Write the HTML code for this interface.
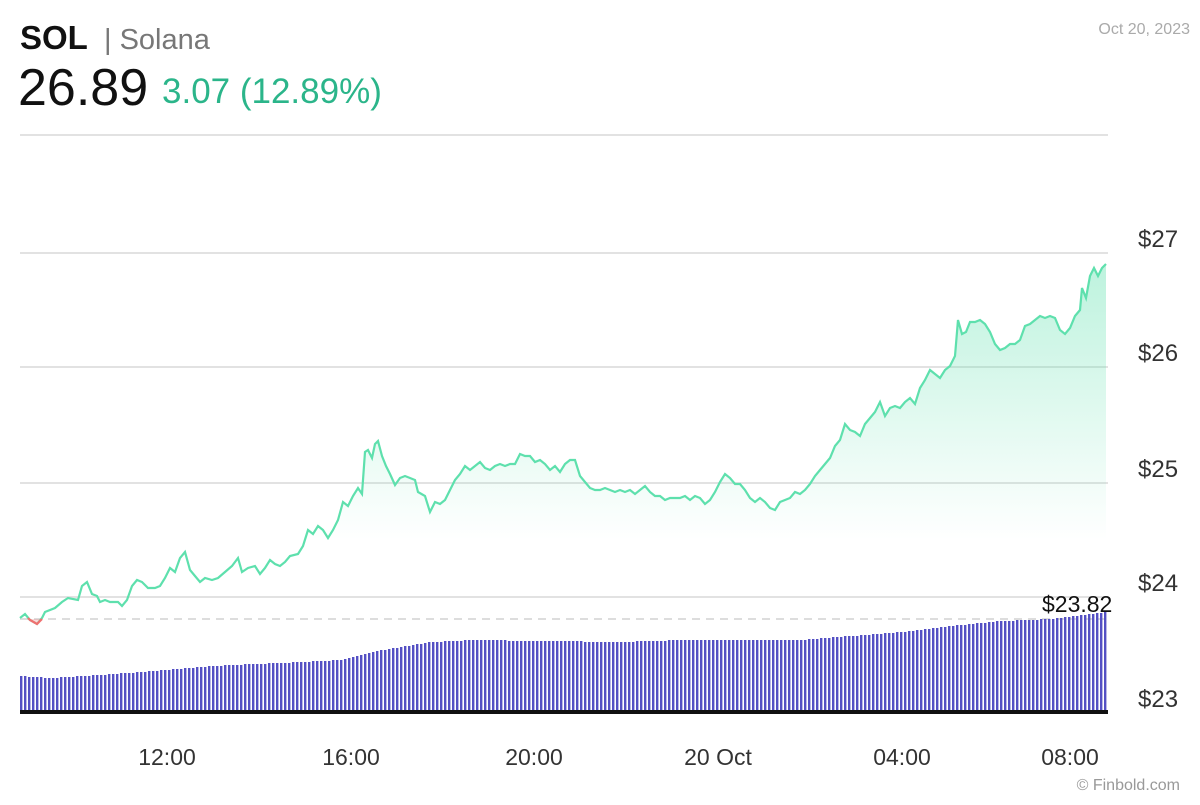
<!DOCTYPE html>
<html><head><style>
body{margin:0;background:#fff;width:1200px;height:800px;overflow:hidden;font-family:"Liberation Sans",sans-serif}
</style></head><body>
<svg id="s" width="1200" height="800" xmlns="http://www.w3.org/2000/svg">
<defs><linearGradient id="g" gradientUnits="userSpaceOnUse" x1="0" y1="270" x2="0" y2="540">
<stop offset="0" stop-color="#5ee0ad" stop-opacity="0.4"/><stop offset="1" stop-color="#5ee0ad" stop-opacity="0"/></linearGradient></defs>
<text x="20" y="49" font-size="33" font-weight="bold" fill="#111">SOL</text>
<text x="104" y="49" font-size="29" fill="#777">| Solana</text>
<text x="18" y="105" font-size="52" fill="#111">26.89</text>
<text x="162" y="103" font-size="35" fill="#2bb58a">3.07 (12.89%)</text>
<text x="1190" y="34" font-size="16" fill="#aaa" text-anchor="end">Oct 20, 2023</text>
<g stroke="#e2e2e2" stroke-width="2">
<line x1="20" y1="135" x2="1108" y2="135"/><line x1="20" y1="253" x2="1108" y2="253"/>
<line x1="20" y1="367" x2="1108" y2="367"/><line x1="20" y1="483" x2="1108" y2="483"/>
<line x1="20" y1="597" x2="1108" y2="597"/></g>
<path id="fill" fill="url(#g)"/>
<line x1="20" y1="619" x2="1108" y2="619" stroke="#ddd" stroke-width="2" stroke-dasharray="8,6"/>
<g font-size="24" fill="#333">
<text x="1138" y="247">$27</text><text x="1138" y="361">$26</text><text x="1138" y="477">$25</text>
<text x="1138" y="591">$24</text><text x="1138" y="707">$23</text></g>
<g id="bars" fill="#5450c4"></g>
<rect x="20" y="710" width="1088" height="4" fill="#111"/>
<polyline id="line" fill="none" stroke="#5ee0ad" stroke-width="2.2"/>
<polygon points="28,619 30,620 37,624 42,619" fill="#f07070" fill-opacity="0.25"/>
<polyline points="28,618 30,620 37,624 42,619" fill="none" stroke="#f07070" stroke-width="2.2"/>
<text x="1042" y="612" font-size="23" fill="#111">$23.82</text>
<g font-size="23" fill="#333" text-anchor="middle">
<text x="167" y="765">12:00</text><text x="351" y="765">16:00</text><text x="534" y="765">20:00</text>
<text x="718" y="765">20 Oct</text><text x="902" y="765">04:00</text><text x="1070" y="765">08:00</text></g>
<text x="1180" y="790" font-size="16" fill="#999" text-anchor="end">© Finbold.com</text>
</svg>
<script>
var p=[20,618,25,614,30,620,37,624,42,618,45,612,55,608,62,602,68,598,78,600,82,586,87,582,92,594,97,596,100,602,105,600,110,602,118,602,122,606,127,600,132,586,137,580,142,582,148,588,155,588,160,586,165,578,170,568,175,572,180,558,185,552,190,570,195,576,200,582,205,578,212,580,218,578,225,572,232,566,238,558,242,572,248,568,255,566,260,574,265,568,270,560,275,564,280,566,285,562,290,556,298,554,303,546,308,530,313,534,318,526,323,530,328,538,333,530,338,520,343,502,348,506,353,496,358,488,362,494,365,452,368,450,372,458,375,444,378,441,382,456,386,466,390,474,395,485,400,478,405,476,410,478,415,480,418,492,425,496,430,512,435,502,440,504,445,500,450,490,455,480,460,474,465,466,470,470,475,466,480,462,485,468,490,470,495,466,500,464,505,466,510,464,515,464,520,454,525,456,530,456,535,462,540,460,545,464,550,470,555,466,560,472,565,464,570,460,575,460,580,476,585,482,590,488,595,490,600,490,605,488,610,490,615,492,620,490,625,492,630,490,635,494,640,490,645,486,650,492,655,496,660,496,665,500,670,498,675,498,680,498,685,496,690,500,695,496,700,498,705,504,710,500,715,492,720,482,725,474,730,478,735,484,740,484,745,490,750,498,755,502,760,498,765,502,770,508,775,510,780,502,785,500,790,498,795,492,800,494,805,490,810,484,815,476,820,470,825,464,830,458,835,446,840,440,845,424,850,430,855,432,860,436,865,424,870,418,875,412,880,402,885,416,890,408,895,406,900,408,905,402,910,398,915,404,920,388,925,380,930,370,935,374,940,378,945,370,950,366,955,356,958,320,962,334,966,332,970,322,975,322,980,320,985,324,990,332,995,344,1000,350,1005,348,1010,344,1015,344,1020,340,1025,326,1030,324,1035,320,1040,316,1045,318,1050,316,1055,318,1060,330,1065,334,1070,328,1075,316,1080,310,1082,288,1086,298,1090,276,1094,268,1098,276,1102,268,1106,264];
var s="";for(var i=0;i<p.length;i+=2)s+=p[i]+","+p[i+1]+" ";
document.getElementById("line").setAttribute("points",s);
document.getElementById("fill").setAttribute("d","M"+s.trim().split(" ").join(" L")+" L1106,620 L20,620 Z");
var k=[20,676,50,678,100,675,165,670,210,666,300,662,340,660,370,652,395,648,430,642,470,640,620,642,680,640,800,640,850,636,900,632,950,626,1000,621,1050,619,1100,613,1108,611];
function h(x){for(var i=0;i<k.length-2;i+=2){if(x<=k[i+2]){var t=(x-k[i])/(k[i+2]-k[i]);return Math.round(k[i+1]+t*(k[i+3]-k[i+1]));}}return 611;}
var g=document.getElementById("bars"),b="";
for(var x=20;x<1107;x+=4){var y=h(x);b+='<rect x="'+x+'" y="'+y+'" width="2.4" height="'+(711-y)+'"/>';}
g.innerHTML=b;
</script>
</body></html>
